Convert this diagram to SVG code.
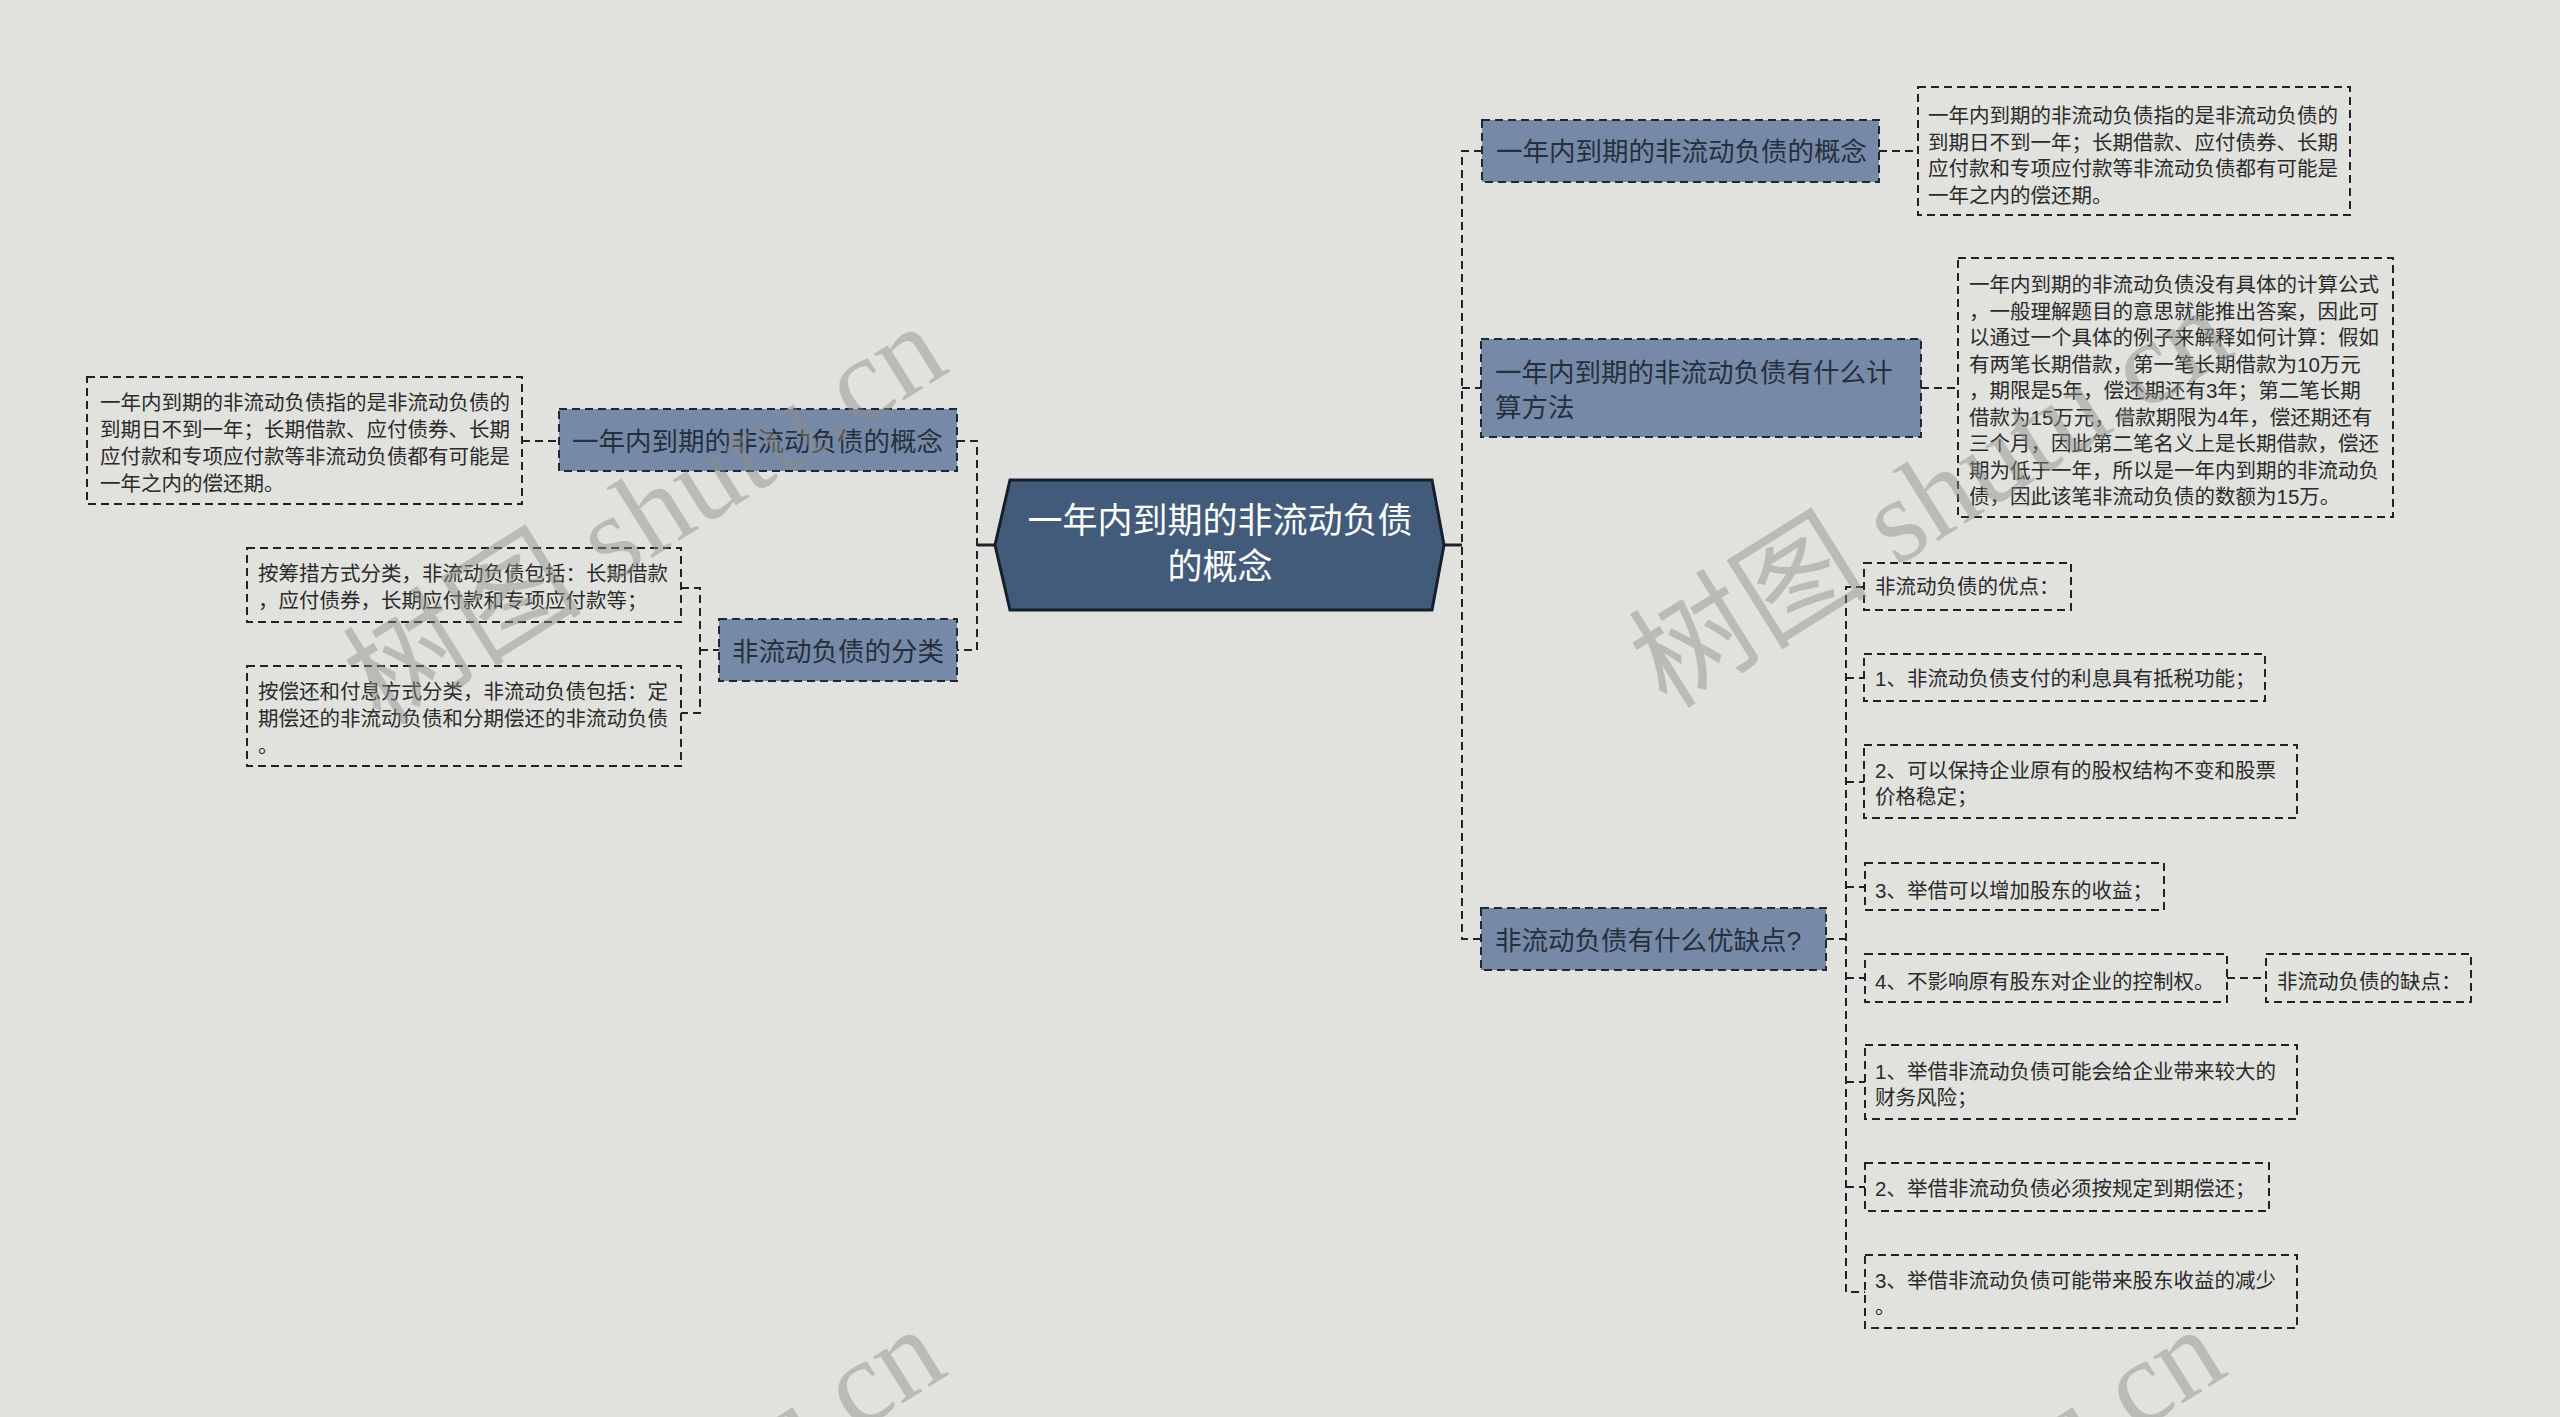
<svg xmlns="http://www.w3.org/2000/svg" width="2560" height="1417" viewBox="0 0 2560 1417">
<defs>
<style>
.bg{fill:#e1e2de}
.main{fill:#768aa8;stroke:#1f2935;stroke-width:2;stroke-dasharray:8 5}
.det{fill:none;stroke:#1f2328;stroke-width:2;stroke-dasharray:8 5}
.mt{font-family:"Liberation Sans","Noto Sans CJK SC",sans-serif;font-size:26.5px;fill:#26303c}
.st{font-family:"Liberation Sans","Noto Sans CJK SC",sans-serif;font-size:20.5px;fill:#2b2b2b}
.ct{font-family:"Liberation Sans","Noto Sans CJK SC",sans-serif;font-size:35px;fill:#ffffff;text-anchor:middle}
.ln{fill:none;stroke:#1f2328;stroke-width:2;stroke-dasharray:8 5}
.solid{fill:none;stroke:#1f2328;stroke-width:3}
.wm{font-family:"Liberation Serif","Noto Sans CJK SC",serif;font-size:120px;fill:#8c8e8a;opacity:0.45}
</style>
</defs>
<rect class="bg" x="0" y="0" width="2560" height="1417"/>

<g id="connectors">
<line class="solid" x1="977" y1="545" x2="995" y2="545"/>
<path class="ln" d="M957 441 H977 V650 H957"/>
<line class="solid" x1="1444" y1="545" x2="1462" y2="545"/>
<path class="ln" d="M1482 151 H1462 V939 H1481"/>
<line class="ln" x1="1462" y1="388" x2="1481" y2="388"/>
<line class="ln" x1="522" y1="441" x2="559" y2="441"/>
<line class="ln" x1="1879" y1="151" x2="1918" y2="151"/>
<line class="ln" x1="1921" y1="388" x2="1958" y2="388"/>
<path class="ln" d="M681 588 H700 V713 H681"/>
<line class="ln" x1="700" y1="650" x2="719" y2="650"/>
<line class="ln" x1="1826" y1="939" x2="1846" y2="939"/>
<path class="ln" d="M1864 587 H1846 V1292 H1865"/>
<line class="ln" x1="1846" y1="678" x2="1864" y2="678"/>
<line class="ln" x1="1846" y1="782" x2="1864" y2="782"/>
<line class="ln" x1="1846" y1="887" x2="1865" y2="887"/>
<line class="ln" x1="1846" y1="978" x2="1865" y2="978"/>
<line class="ln" x1="1846" y1="1082" x2="1865" y2="1082"/>
<line class="ln" x1="1846" y1="1187" x2="1865" y2="1187"/>
<line class="ln" x1="2227" y1="978" x2="2266" y2="978"/>
</g>

<g id="center">
<polygon points="995,545 1010,480 1432,480 1444,545 1432,610 1010,610" fill="#425b7a" stroke="#15202c" stroke-width="3"/>
<text class="ct" x="1220" y="533">一年内到期的非流动负债</text>
<text class="ct" x="1220" y="579">的概念</text>
</g>

<g id="r1">
<rect class="main" x="1482" y="120" width="397" height="62"/>
<text class="mt" x="1496" y="161">一年内到期的非流动负债的概念</text>
</g>
<g id="r1d">
<rect class="det" x="1918" y="87" width="432" height="128"/>
<text class="st" x="1928" y="123">一年内到期的非流动负债指的是非流动负债的</text>
<text class="st" x="1928" y="149.5">到期日不到一年；长期借款、应付债券、长期</text>
<text class="st" x="1928" y="176">应付款和专项应付款等非流动负债都有可能是</text>
<text class="st" x="1928" y="202.5">一年之内的偿还期。</text>
</g>

<g id="r2">
<rect class="main" x="1481" y="339" width="440" height="98"/>
<text class="mt" x="1495" y="382">一年内到期的非流动负债有什么计</text>
<text class="mt" x="1495" y="417">算方法</text>
</g>
<g id="r2d">
<rect class="det" x="1958" y="258" width="435" height="259"/>
<text class="st" x="1969" y="292">一年内到期的非流动负债没有具体的计算公式</text>
<text class="st" x="1969" y="318.5">，一般理解题目的意思就能推出答案，因此可</text>
<text class="st" x="1969" y="345">以通过一个具体的例子来解释如何计算：假如</text>
<text class="st" x="1969" y="371.5">有两笔长期借款，第一笔长期借款为10万元</text>
<text class="st" x="1969" y="398">，期限是5年，偿还期还有3年；第二笔长期</text>
<text class="st" x="1969" y="424.5">借款为15万元，借款期限为4年，偿还期还有</text>
<text class="st" x="1969" y="451">三个月，因此第二笔名义上是长期借款，偿还</text>
<text class="st" x="1969" y="477.5">期为低于一年，所以是一年内到期的非流动负</text>
<text class="st" x="1969" y="504">债，因此该笔非流动负债的数额为15万。</text>
</g>

<g id="r3">
<rect class="main" x="1481" y="908" width="345" height="62"/>
<text class="mt" x="1495" y="950">非流动负债有什么优缺点?</text>
</g>
<g id="c1">
<rect class="det" x="1864" y="563" width="207" height="47"/>
<text class="st" x="1875" y="594">非流动负债的优点：</text>
</g>
<g id="c2">
<rect class="det" x="1864" y="654" width="401" height="47"/>
<text class="st" x="1875" y="685.5">1、非流动负债支付的利息具有抵税功能；</text>
</g>
<g id="c3">
<rect class="det" x="1864" y="745" width="433" height="73"/>
<text class="st" x="1875" y="778">2、可以保持企业原有的股权结构不变和股票</text>
<text class="st" x="1875" y="804">价格稳定；</text>
</g>
<g id="c4">
<rect class="det" x="1865" y="863" width="299" height="47"/>
<text class="st" x="1875" y="898">3、举借可以增加股东的收益；</text>
</g>
<g id="c5">
<rect class="det" x="1865" y="954" width="362" height="48"/>
<text class="st" x="1875" y="989">4、不影响原有股东对企业的控制权。</text>
</g>
<g id="c5b">
<rect class="det" x="2266" y="954" width="205" height="48"/>
<text class="st" x="2277" y="989">非流动负债的缺点：</text>
</g>
<g id="c6">
<rect class="det" x="1865" y="1045" width="432" height="74"/>
<text class="st" x="1875" y="1079">1、举借非流动负债可能会给企业带来较大的</text>
<text class="st" x="1875" y="1105">财务风险；</text>
</g>
<g id="c7">
<rect class="det" x="1865" y="1163" width="404" height="48"/>
<text class="st" x="1875" y="1196">2、举借非流动负债必须按规定到期偿还；</text>
</g>
<g id="c8">
<rect class="det" x="1865" y="1255" width="432" height="73"/>
<text class="st" x="1875" y="1288">3、举借非流动负债可能带来股东收益的减少</text>
<text class="st" x="1875" y="1314">。</text>
</g>

<g id="l1">
<rect class="main" x="559" y="409" width="398" height="62"/>
<text class="mt" x="572" y="451">一年内到期的非流动负债的概念</text>
</g>
<g id="l1d">
<rect class="det" x="87" y="377" width="435" height="127"/>
<text class="st" x="100" y="410">一年内到期的非流动负债指的是非流动负债的</text>
<text class="st" x="100" y="437">到期日不到一年；长期借款、应付债券、长期</text>
<text class="st" x="100" y="464">应付款和专项应付款等非流动负债都有可能是</text>
<text class="st" x="100" y="491">一年之内的偿还期。</text>
</g>
<g id="l2">
<rect class="main" x="719" y="619" width="238" height="62"/>
<text class="mt" x="732" y="661">非流动负债的分类</text>
</g>
<g id="l2a">
<rect class="det" x="247" y="548" width="434" height="74"/>
<text class="st" x="258" y="581">按筹措方式分类，非流动负债包括：长期借款</text>
<text class="st" x="258" y="608">，应付债券，长期应付款和专项应付款等；</text>
</g>
<g id="l2b">
<rect class="det" x="247" y="666" width="434" height="100"/>
<text class="st" x="258" y="699">按偿还和付息方式分类，非流动负债包括：定</text>
<text class="st" x="258" y="726">期偿还的非流动负债和分期偿还的非流动负债</text>
<text class="st" x="258" y="752.5">。</text>
</g>

<g id="watermarks">
<text class="wm" transform="translate(381,727) rotate(-32)">树图 shutu.cn</text>
<text class="wm" transform="translate(1667,710) rotate(-32)">树图 shutu.cn</text>
<text class="wm" transform="translate(380,1730) rotate(-32)">树图 shutu.cn</text>
<text class="wm" transform="translate(1660,1730) rotate(-32)">树图 shutu.cn</text>
</g>
</svg>
